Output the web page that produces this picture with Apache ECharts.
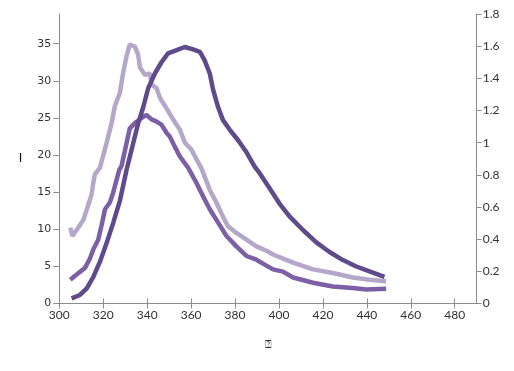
<!DOCTYPE html>
<html><head><meta charset="utf-8">
<script src="https://cdn.jsdelivr.net/npm/echarts@6/dist/echarts.min.js"></script>
<style>html,body{margin:0;padding:0;background:#fff}#c{width:514px;height:371px}</style>
</head><body><div id="c"></div>
<script>
const xTicks = [300,320,340,360,380,400,420,440,460,480];
const leftTicks = [0,5,10,15,20,25,30,35];
const xName = '\u2370';
const yName = 'I';

const lightX = [305,306,308.6,311,313,314.7,315.5,316.2,318.5,321.5,323.8,325.3,327.6,329,330.6,332.1,334.4,335.9,336.7,339,341.2,342,344.3,345.8,348.8,351.8,354.9,357.1,360.2,362.5,364.7,368.5,371.5,374.5,376.8,380.6,385.2,389.7,394.3,397.3,406.4,415.5,424.5,433.6,441.2,448.8];
const lightY = [10.2,9.1,10.2,11.3,13.1,14.7,16.3,17.4,18.3,21.6,24.3,26.6,28.4,31,33.3,34.9,34.6,33.5,31.8,30.8,31,29.5,29,27.7,26.3,24.8,23.4,21.7,20.7,19.4,18.2,15.3,13.6,11.7,10.4,9.5,8.6,7.7,7.1,6.6,5.5,4.6,4.1,3.5,3.2,3.0];

const midX = [305,307.9,311.7,314,315.5,317.7,319.3,320.8,323,324.5,326.1,327.3,328.3,330.6,332.1,334.4,337.5,339.7,342,344.3,346.5,348.8,350.3,352.6,354.9,358.6,362.5,365.5,368.5,372.3,376.1,380.6,385.2,389.7,394.3,397.3,401.8,406.4,415.5,424.5,433.6,439.7,448.8];
const midY = [3.2,3.9,4.8,6.1,7.3,8.6,10.6,12.7,13.6,14.9,16.7,18,18.5,21.6,23.6,24.3,25.0,25.4,24.8,24.5,24.1,23.0,22.5,21.1,19.8,18.3,16.2,14.4,12.7,10.9,9.1,7.7,6.4,5.9,5.1,4.6,4.3,3.5,2.8,2.3,2.1,1.9,2.0];

const darkX = [305.6,309.4,312.5,315.5,318.5,321.5,324.5,327.6,330.6,333.6,335.9,338.2,340.5,343.5,346.5,349.5,353.4,357.1,360.9,364,366.2,368.5,370,372.3,374.5,377.6,381.4,385.2,389,391.2,395.8,400.3,404.9,410.9,417,423,429.1,435.2,441.2,448];
const darkY = [0.032,0.053,0.094,0.166,0.26,0.374,0.50,0.64,0.83,0.995,1.12,1.22,1.34,1.43,1.50,1.555,1.575,1.595,1.58,1.565,1.51,1.43,1.33,1.22,1.14,1.08,1.015,0.94,0.85,0.81,0.715,0.62,0.54,0.457,0.38,0.32,0.27,0.23,0.20,0.166];

const pair = (xs, ys) => xs.map((x, i) => [x, ys[i]]);
const axisGrey = '#8c8c8c';

const chart = echarts.init(document.getElementById('c'), null, {renderer: 'canvas'});
chart.setOption({
  animation: false,
  backgroundColor: '#fff',
  grid: {left: 59.3, right: 37.3, top: 14, bottom: 67.5, containLabel: false},
  xAxis: [{
    type: 'value', min: 300, max: 490, interval: 20, position: 'bottom',
    name: xName, nameLocation: 'middle', nameGap: 36,
    nameTextStyle: {fontFamily: 'DejaVu Sans', fontSize: 11, color: '#333'},
    axisLine: {show: true, onZero: false, lineStyle: {color: axisGrey, width: 1}},
    axisTick: {show: true, length: 5, lineStyle: {color: axisGrey}, customValues: xTicks},
    axisLabel: {color: '#333', fontFamily: 'Lato', fontSize: 12, margin: 6, customValues: xTicks},
    splitLine: {show: false}
  }, {
    type: 'value', min: 300, max: 490, interval: 20, position: 'bottom',
    axisLine: {show: false, onZero: false},
    axisTick: {show: true, inside: true, length: 5, lineStyle: {color: axisGrey}, customValues: xTicks},
    axisLabel: {show: false},
    splitLine: {show: false}
  }],
  yAxis: [{
    type: 'value', min: 0, max: 39, interval: 5, position: 'left',
    name: yName, nameLocation: 'middle', nameGap: 37, nameRotate: 0,
    nameTextStyle: {fontFamily: 'DejaVu Sans', fontSize: 12, color: '#000'},
    axisLine: {show: true, lineStyle: {color: axisGrey, width: 1}},
    axisTick: {show: true, length: 6, lineStyle: {color: axisGrey}, customValues: leftTicks},
    axisLabel: {color: '#333', fontFamily: 'DejaVu Sans', fontSize: 11, margin: 8, customValues: leftTicks},
    splitLine: {show: false}
  }, {
    type: 'value', min: 0, max: 1.8, interval: 0.2, position: 'right',
    axisLine: {show: true, lineStyle: {color: axisGrey, width: 1}},
    axisTick: {show: true, length: 5, lineStyle: {color: axisGrey}},
    axisLabel: {color: '#333', fontFamily: 'Lato', fontSize: 12, margin: 6},
    splitLine: {show: false}
  }],
  series: [
    {type: 'line', xAxisIndex: 0, yAxisIndex: 0, data: pair(lightX, lightY), showSymbol: false, symbol: 'none',
     lineStyle: {color: '#b4a7c9', width: 4.5}},
    {type: 'line', xAxisIndex: 0, yAxisIndex: 0, data: pair(midX, midY), showSymbol: false, symbol: 'none',
     lineStyle: {color: '#7d5fa5', width: 4.5}},
    {type: 'line', xAxisIndex: 0, yAxisIndex: 1, data: pair(darkX, darkY), showSymbol: false, symbol: 'none',
     lineStyle: {color: '#5f4a8b', width: 4.5}}
  ]
});
</script></body></html>
